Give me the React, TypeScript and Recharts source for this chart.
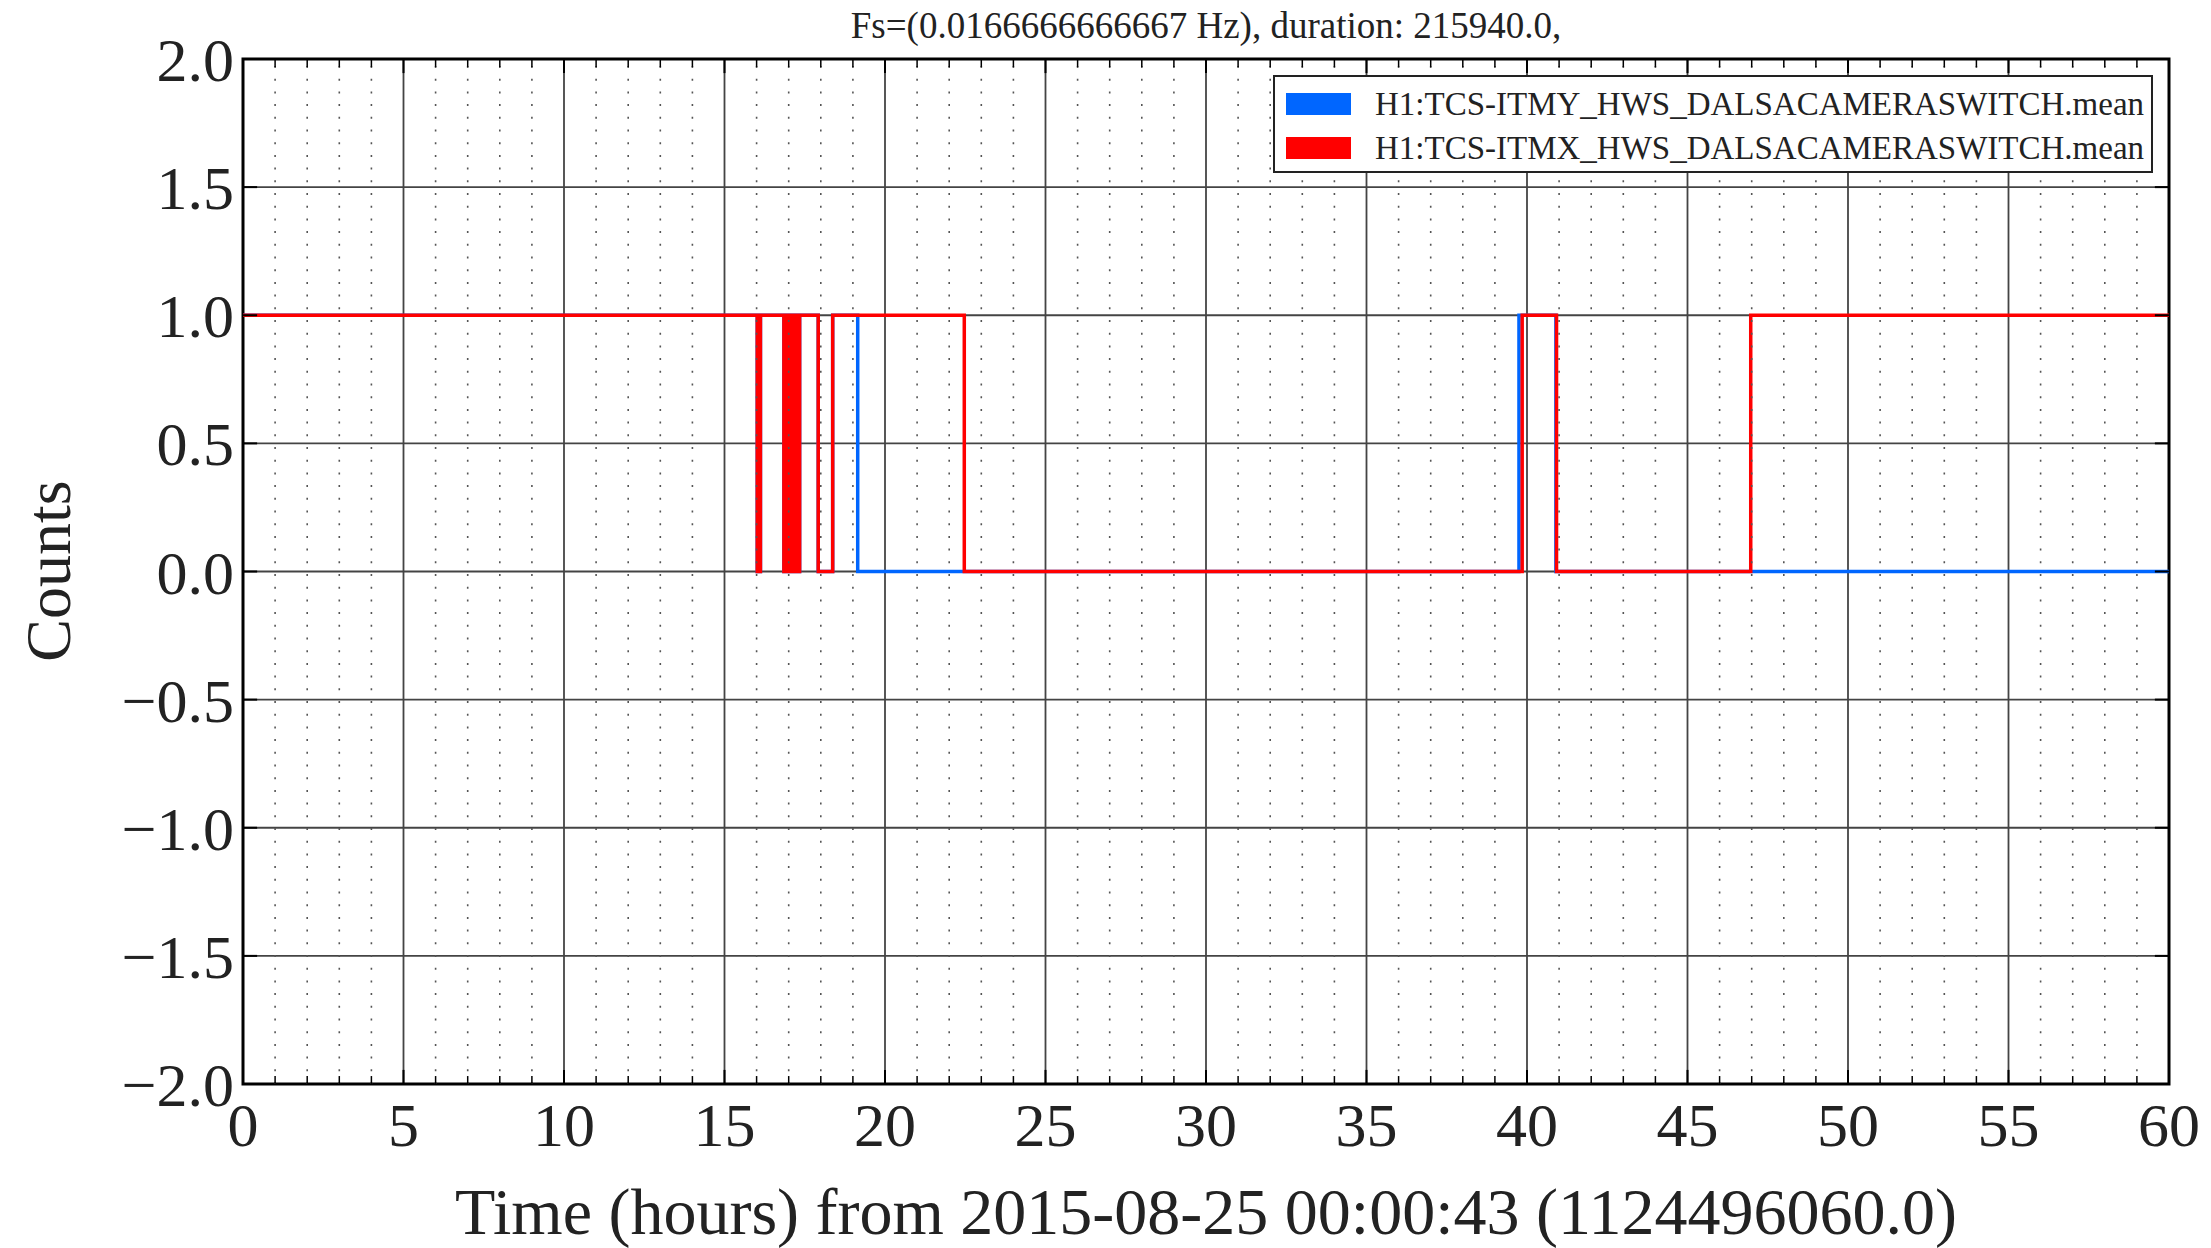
import { LineChart, Line, XAxis, YAxis, CartesianGrid, ReferenceLine, ReferenceArea } from "recharts";

// hours since 2015-08-25 00:00:43, state changes of the camera switch
const itmyTimes = [0, 16.02, 16.12, 16.85, 16.9, 16.95, 17.0, 17.05, 17.1, 17.16, 17.22, 17.28, 17.34, 17.4, 17.92, 18.37, 19.15, 39.75, 40.9, 60];
const itmyValues = [1, 0, 1, 0, 1, 0, 1, 0, 1, 0, 1, 0, 1, 1, 0, 1, 0, 1, 0, 0];
const itmxTimes = [0, 16.02, 16.12, 16.85, 16.9, 16.95, 17.0, 17.05, 17.1, 17.16, 17.22, 17.28, 17.34, 17.4, 17.92, 18.37, 22.47, 39.85, 40.92, 46.97, 60];
const itmxValues = [1, 0, 1, 0, 1, 0, 1, 0, 1, 0, 1, 0, 1, 1, 0, 1, 0, 1, 0, 1, 1];

const seriesNames = ["H1:TCS-ITMY_HWS_DALSACAMERASWITCH.mean", "H1:TCS-ITMX_HWS_DALSACAMERASWITCH.mean"];
const seriesColors = ["#0066ff", "#ff0000"];

const hourTicks = [0, 5, 10, 15, 20, 25, 30, 35, 40, 45, 50, 55, 60];
const minorHours = [1, 2, 3, 4, 6, 7, 8, 9, 11, 12, 13, 14, 16, 17, 18, 19, 21, 22, 23, 24, 26, 27, 28, 29, 31, 32, 33, 34, 36, 37, 38, 39, 41, 42, 43, 44, 46, 47, 48, 49, 51, 52, 53, 54, 56, 57, 58, 59];
const countTicks = [-2, -1.5, -1, -0.5, 0, 0.5, 1, 1.5, 2];

const itmy = itmyTimes.map((t, i) => ({ t, v: itmyValues[i] }));
const itmx = itmxTimes.map((t, i) => ({ t, v: itmxValues[i] }));

const serif = '"Liberation Serif", "DejaVu Serif", serif';
const fmtCount = (v: number) => v.toFixed(1).replace("-", "\u2212");

// tick lengths in data units (approx 14px / 8px)
const majY = 0.055;
const minY = 0.031;
const majX = 0.44;

export default function App() {
  return (
    <div style={{ position: "absolute", left: 0, top: 0, width: 2211, height: 1248, background: "#fff", fontFamily: serif }}>
      <div style={{ position: "absolute", left: 243, width: 1926, top: 4, textAlign: "center", fontSize: 37, color: "#222", whiteSpace: "nowrap" }}>
        Fs=(0.0166666666667 Hz), duration: 215940.0,
      </div>
      <div
        style={{
          position: "absolute",
          left: 49,
          top: 571,
          transform: "translate(-50%, -50%) rotate(-90deg)",
          fontSize: 64,
          color: "#222",
          whiteSpace: "nowrap",
        }}
      >
        Counts
      </div>
      <div style={{ position: "absolute", left: 243, width: 1926, top: 1174, textAlign: "center", fontSize: 66, color: "#222", whiteSpace: "nowrap" }}>
        Time (hours) from 2015-08-25 00:00:43 (1124496060.0)
      </div>
      <LineChart width={2211} height={1248} margin={{ top: 59, right: 42, left: 0, bottom: 94 }}>
        <XAxis
          dataKey="t"
          type="number"
          domain={[0, 60]}
          ticks={hourTicks}
          allowDataOverflow
          height={70}
          axisLine={false}
          tickLine={false}
          tickMargin={12}
          tick={{ fill: "#222", fontSize: 62, fontFamily: serif }}
        />
        <YAxis
          type="number"
          domain={[-2, 2]}
          ticks={countTicks}
          allowDataOverflow
          width={243}
          axisLine={false}
          tickLine={false}
          tickMargin={3}
          tickFormatter={fmtCount}
          tick={{ fill: "#222", fontSize: 62, fontFamily: serif }}
        />
        <Line data={itmy} dataKey="v" name={seriesNames[0]} type="stepAfter" stroke={seriesColors[0]} strokeWidth={3.5} dot={false} isAnimationActive={false} />
        <Line data={itmx} dataKey="v" name={seriesNames[1]} type="stepAfter" stroke={seriesColors[1]} strokeWidth={3.5} dot={false} isAnimationActive={false} />
        <CartesianGrid stroke="#444" strokeWidth={1.8} />
        {minorHours.map((h) => (
          <ReferenceLine key={`m${h}`} x={h} stroke="#555" strokeWidth={1.6} strokeDasharray="2 10.7" />
        ))}
        {minorHours.map((h) => (
          <ReferenceLine key={`mb${h}`} segment={[{ x: h, y: -2 }, { x: h, y: -2 + minY }]} stroke="#000" strokeWidth={1.5} />
        ))}
        {minorHours.map((h) => (
          <ReferenceLine key={`mt${h}`} segment={[{ x: h, y: 2 }, { x: h, y: 2 - minY }]} stroke="#000" strokeWidth={1.5} />
        ))}
        {hourTicks.map((h) => (
          <ReferenceLine key={`b${h}`} segment={[{ x: h, y: -2 }, { x: h, y: -2 + majY }]} stroke="#000" strokeWidth={2} />
        ))}
        {hourTicks.map((h) => (
          <ReferenceLine key={`t${h}`} segment={[{ x: h, y: 2 }, { x: h, y: 2 - majY }]} stroke="#000" strokeWidth={2} />
        ))}
        {countTicks.map((c) => (
          <ReferenceLine key={`l${c}`} segment={[{ x: 0, y: c }, { x: majX, y: c }]} stroke="#000" strokeWidth={2} />
        ))}
        {countTicks.map((c) => (
          <ReferenceLine key={`r${c}`} segment={[{ x: 60, y: c }, { x: 60 - majX, y: c }]} stroke="#000" strokeWidth={2} />
        ))}
        <ReferenceArea x1={0} x2={60} y1={-2} y2={2} fill="none" stroke="#000" strokeWidth={3} />
      </LineChart>
      <div
        style={{
          position: "absolute",
          left: 1273,
          top: 75,
          boxSizing: "border-box",
          width: 880,
          height: 98,
          border: "2.5px solid #222",
          background: "#fff",
          padding: "5px 0 0 11px",
        }}
      >
        {seriesNames.map((name, i) => (
          <div key={name} style={{ display: "flex", alignItems: "center", height: 44 }}>
            <div style={{ width: 65, height: 22, background: seriesColors[i], marginRight: 24 }} />
            <span style={{ fontSize: 33, color: "#222", fontFamily: serif, whiteSpace: "nowrap" }}>{name}</span>
          </div>
        ))}
      </div>
    </div>
  );
}
